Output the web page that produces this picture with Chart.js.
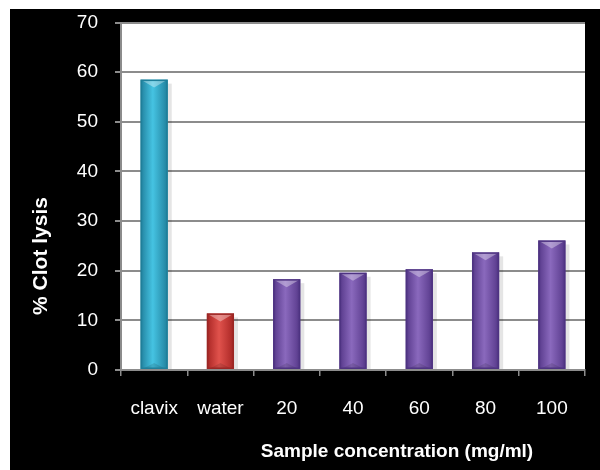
<!DOCTYPE html>
<html>
<head>
<meta charset="utf-8">
<script src="https://cdn.jsdelivr.net/npm/chart.js@4/dist/chart.umd.min.js"></script>
<style>
html,body{margin:0;padding:0;background:#fff;}
#wrap{width:600px;height:470px;}
</style>
</head>
<body>
<div id="wrap"><canvas id="c" width="600" height="470"></canvas></div>
<script>
const categories = ['clavix', 'water', '20', '40', '60', '80', '100'];
const clotLysis = [58.5, 11.4, 18.3, 19.6, 20.3, 23.7, 26.1];
const yTicks = [0, 10, 20, 30, 40, 50, 60, 70];
const xTitle = 'Sample concentration (mg/ml)';
const yTitle = '% Clot lysis';

const palette = {
  clavix: ['#1f7f9a', '#45c3e2', '#2b93b0'],
  water:  ['#9c2624', '#e0524c', '#b7312e'],
  sample: ['#4e3382', '#8a69bd', '#644597']
};
function colorsFor(i){
  if (i === 0) return palette.clavix;
  if (i === 1) return palette.water;
  return palette.sample;
}

const bgPlugin = {
  id: 'bg',
  beforeDraw(chart){
    const ctx = chart.ctx, a = chart.chartArea;
    ctx.save();
    ctx.fillStyle = '#fff';
    ctx.fillRect(0, 0, chart.width, chart.height);
    ctx.fillStyle = '#000';
    ctx.fillRect(10, 9, chart.width - 10, chart.height - 9);
    ctx.fillStyle = '#fff';
    ctx.fillRect(a.left, a.top, a.right - a.left, a.bottom - a.top);
    ctx.restore();
  }
};

const barStyle = {
  id: 'barStyle',
  afterDatasetsDraw(chart){
    const ctx = chart.ctx;
    const meta = chart.getDatasetMeta(0);
    meta.data.forEach((bar, i) => {
      const c = colorsFor(i);
      const w = bar.width, l = bar.x - w/2, r = bar.x + w/2, t = bar.y, b = bar.base;
      ctx.save();
      // shadow
      ctx.fillStyle = 'rgba(0,0,0,0.10)';
      ctx.fillRect(r, t + 4, 4, b - t - 4);
      // body gradient
      const g = ctx.createLinearGradient(l, 0, r, 0);
      g.addColorStop(0, c[0]);
      g.addColorStop(0.12, c[2]);
      g.addColorStop(0.45, c[1]);
      g.addColorStop(0.85, c[2]);
      g.addColorStop(1, c[0]);
      ctx.fillStyle = g;
      ctx.fillRect(l, t, w, b - t);
      // top bevel
      const bev = Math.min(8, (b - t) / 2);
      ctx.beginPath();
      ctx.moveTo(l, t); ctx.lineTo(r, t); ctx.lineTo(bar.x, t + bev); ctx.closePath();
      ctx.fillStyle = 'rgba(255,255,255,0.35)';
      ctx.fill();
      // bottom bevel
      ctx.beginPath();
      ctx.moveTo(l + 2, b); ctx.lineTo(r - 2, b); ctx.lineTo(bar.x, b - 6); ctx.closePath();
      ctx.fillStyle = 'rgba(0,0,0,0.12)';
      ctx.fill();
      // outline
      ctx.strokeStyle = c[0];
      ctx.lineWidth = 1.5;
      ctx.strokeRect(l + 0.75, t + 0.75, w - 1.5, b - t - 1.5);
      ctx.restore();
    });
  }
};

const titles = {
  id: 'titles',
  afterDraw(chart){
    const ctx = chart.ctx;
    ctx.save();
    ctx.fillStyle = '#fff';
    ctx.textAlign = 'center';
    ctx.textBaseline = 'alphabetic';
    ctx.font = 'bold 19px "Liberation Sans", Arial, sans-serif';
    ctx.fillText(xTitle, 397, 457);
    ctx.font = 'bold 21px "Liberation Sans", Arial, sans-serif';
    ctx.translate(47, 256);
    ctx.rotate(-Math.PI / 2);
    ctx.fillText(yTitle, 0, 0);
    ctx.restore();
  }
};

new Chart(document.getElementById('c'), {
  type: 'bar',
  data: {
    labels: categories,
    datasets: [{
      data: clotLysis,
      backgroundColor: 'rgba(0,0,0,0)',
      borderWidth: 0,
      barPercentage: 0.41,
      categoryPercentage: 1.0
    }]
  },
  options: {
    responsive: false,
    animation: false,
    events: [],
    layout: { padding: { left: 0, top: 0, right: 15, bottom: 0 } },
    plugins: { legend: { display: false }, tooltip: { enabled: false } },
    scales: {
      x: {
        offset: true,
        afterFit(s){ s.height = 100; },
        grid: {
          offset: true,
          drawOnChartArea: false,
          drawTicks: true,
          tickLength: 6,
          color: '#8c8c8c',
          lineWidth: 1.5
        },
        border: { display: true, color: '#8c8c8c', width: 2 },
        ticks: {
          color: '#fff',
          padding: 21,
          font: { family: '"Liberation Sans", Arial, sans-serif', size: 19 }
        }
      },
      y: {
        min: 0,
        max: 70,
        afterFit(s){ s.width = 121; s.paddingTop = 22.5; s.paddingBottom = 12; },
        afterBuildTicks(s){ s.ticks = yTicks.map(v => ({ value: v })); },
        grid: {
          drawTicks: true,
          tickLength: 6,
          color: '#8c8c8c',
          lineWidth: 2
        },
        border: { display: true, color: '#8c8c8c', width: 2 },
        ticks: {
          color: '#fff',
          padding: 17,
          font: { family: '"Liberation Sans", Arial, sans-serif', size: 19 }
        }
      }
    }
  },
  plugins: [bgPlugin, barStyle, titles]
});
</script>
</body>
</html>
